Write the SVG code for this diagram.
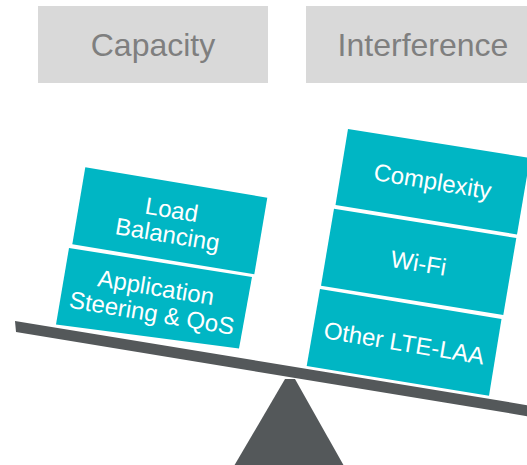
<svg xmlns="http://www.w3.org/2000/svg" width="527" height="465" viewBox="0 0 527 465">
  <style>
    .hdr { fill: #d9d9d9; }
    .hdr-t { font-family: "Liberation Sans", Arial, sans-serif; font-size: 32px; fill: #7f7f7f; text-anchor: middle; }
    .blk { fill: #00b6c4; }
    .blk-t { font-family: "Liberation Sans", Arial, sans-serif; font-size: 24px; fill: #ffffff; text-anchor: middle; }
    .dark { fill: #54585a; }
  </style>

  <!-- column headers -->
  <g id="capacity">
    <rect class="hdr" x="38" y="6" width="230" height="77"/>
    <text class="hdr-t" x="153" y="56">Capacity</text>
  </g>
  <g id="interference">
    <rect class="hdr" x="306" y="6" width="230" height="77"/>
    <text class="hdr-t" x="423" y="56">Interference</text>
  </g>

  <!-- balance beam and fulcrum -->
  <g id="scale">
    <polygon class="dark" points="15,321 540,407.3 540,418.3 16,332"/>
    <polygon class="dark" points="285,379 295,379 344,466 234,466"/>
  </g>

  <!-- left pan -->
  <g id="load-balancing">
    <polygon class="blk" points="85.3,167.3 267.3,197.7 254.3,274.3 72.3,244.3"/>
    <g transform="translate(169.8,220.9) rotate(9.4)">
      <text class="blk-t" x="0" y="-3">Load</text>
      <text class="blk-t" x="0" y="22">Balancing</text>
    </g>
  </g>
  <g id="app-steering">
    <polygon class="blk" points="69,248 252,277 239,348.5 56,324.5"/>
    <g transform="translate(154,299.5) rotate(9.4)">
      <text class="blk-t" x="0" y="-4">Application</text>
      <text class="blk-t" x="0" y="22">Steering &amp; QoS</text>
    </g>
  </g>

  <!-- right pan -->
  <g id="complexity">
    <polygon class="blk" points="348,129 530,158 517,234.5 335.5,205"/>
    <g transform="translate(432.6,181.6) rotate(9.4)">
      <text class="blk-t" x="0" y="8">Complexity</text>
    </g>
  </g>
  <g id="wifi">
    <polygon class="blk" points="334,208.7 516.3,238 503.3,315 321,285.7"/>
    <g transform="translate(418.7,261.9) rotate(9.4)">
      <text class="blk-t" x="0" y="9.5">Wi-Fi</text>
    </g>
  </g>
  <g id="other-lte-laa">
    <polygon class="blk" points="320,289 501.5,319 489,395.7 306.7,366"/>
    <g transform="translate(404.3,342.4) rotate(9.4)">
      <text class="blk-t" x="0" y="9">Other LTE-LAA</text>
    </g>
  </g>
</svg>
